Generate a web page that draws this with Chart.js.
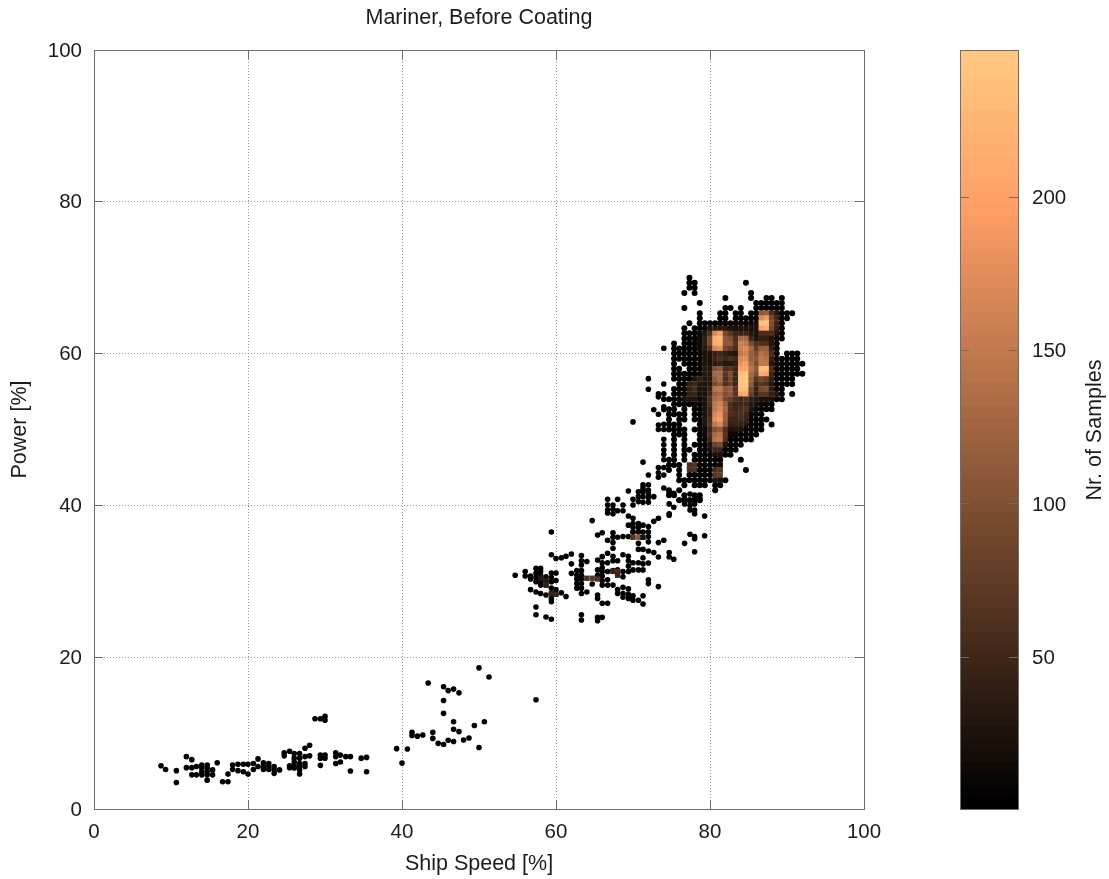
<!DOCTYPE html>
<html>
<head>
<meta charset="utf-8">
<title>Mariner, Before Coating</title>
<script src="https://cdn.jsdelivr.net/npm/chart.js@4"></script>
<style>
  html, body { margin: 0; padding: 0; background: #fff; }
  #wrap { position: relative; width: 1109px; height: 879px; overflow: hidden; }
  #mainBox { position: absolute; left: 0; top: 0; width: 1109px; height: 879px; }
  #barBox { position: absolute; left: 940px; top: 0; width: 169px; height: 879px; }
</style>
</head>
<body>
<div id="wrap">
  <div id="mainBox"><canvas id="mainChart" width="1109" height="879"></canvas></div>
  <div id="barBox"><canvas id="colorBar" width="169" height="879"></canvas></div>
</div>
<script>
const axisTicks = [0, 20, 40, 60, 80, 100];
const samplesMin = 0.5;
const samplesMax = 248;

// sparse bins: one list of power values per speed column, all close to 1 sample
const sparseSpeed = [8.7, 9.3, 10.7, 12.0, 12.7, 13.3, 14.0, 14.7, 15.4, 16.0, 16.7, 17.4, 18.0, 18.7, 19.4, 20.0, 20.7, 21.3, 22.0, 22.7, 23.4, 24.1, 24.7, 25.4, 26.0, 26.7, 27.4, 28.0, 28.7, 29.4, 30.0, 31.4, 32.0, 32.7, 33.3, 34.7, 35.4,
  39.3, 40.0, 40.7, 41.3, 42.0, 42.7, 43.4, 44.0, 44.7, 45.4, 46.0, 46.7, 47.4, 48.0, 48.7, 49.4, 50.0, 50.7, 51.3,
  54.7, 56.0, 56.7, 57.4, 58.0, 58.7, 59.4, 60.0, 60.7, 61.3, 62.0, 62.7, 63.3, 64.0, 64.7, 65.4, 66.0, 66.7, 67.4, 68.0, 68.7, 69.4, 70.0, 70.7, 71.3, 72.0, 72.7, 73.3, 74.0, 74.7, 75.3, 76.0, 76.7, 77.4, 78.0, 78.7, 79.3];
const sparsePower = [
  [5.7], [5.2], [5.05, 3.5], [6.9, 5.45], [6.5, 5.45, 4.5], [5.6, 4.5], [5.8, 5.4, 4.9, 4.5], [5.8, 5.4, 4.9, 4.5, 3.8], [5.15, 4.5], [6.1], [3.6], [4.6, 3.6],
  [5.8, 5.2], [5.9, 5.05], [5.9, 4.9], [5.9, 4.6], [6.0, 5.2], [6.6, 5.6], [6.1, 5.6, 5.2], [6.0, 5.6, 5.2], [5.6, 5.15, 4.7], [5.15], [7.4, 7.0], [7.6, 5.7, 5.45],
  [7.3, 6.7, 6.2, 5.7, 5.4], [7.3, 6.7, 6.0, 5.6, 5.15, 4.6], [8.0, 6.9, 6.0, 5.6], [8.4, 7.0], [11.9], [11.9, 7.1, 6.7, 5.75], [12.2, 11.7, 7.1, 6.7], [7.4, 6.9, 6.0], [7.1, 6.2], [6.9], [6.9, 5.0], [6.7], [6.8, 4.9],
  [7.95], [6.05], [7.9], [10.1, 9.7], [9.6], [9.75], [16.6], [10.1, 9.3], [8.65], [16.1, 14.3, 12.6, 8.5], [15.6, 9.05], [15.8, 11.5, 10.5, 8.9], [15.3, 10.2], [9.1], [9.35], [11.0], [18.6, 8.1], [11.5], [17.4],
  [30.8], [31.3, 30.7], [30.7, 30.3, 28.9], [31.7, 31.05, 30.5, 29.95, 28.6, 26.6, 25.6, 14.4], [31.7, 31.3, 30.8, 30.4, 29.95, 29.5, 28.4], [30.6, 30.1, 29.5, 28.2, 25.3],
  [36.5, 33.5, 31.1, 30.5, 29.95, 29.1, 28.4, 27.75, 27.3, 25.0], [33.0, 31.1, 30.1, 28.9, 28.3], [33.1, 28.5], [33.3, 28.0], [33.6, 32.3, 31.05], [31.4, 30.8, 30.3, 29.7, 29.1],
  [33.4, 32.7, 32.15, 31.4, 30.8, 30.3, 29.7, 29.1, 28.4, 25.6, 24.9], [32.6, 28.6], [38.0, 29.65], [36.1, 32.8, 31.5, 30.8, 28.2, 27.75, 25.25, 24.8],
  [36.4, 33.25, 32.45, 31.8, 31.3, 30.7, 30.1, 29.5, 27.1, 25.25], [40.8, 40.05, 39.4, 39.0, 35.4, 33.7, 32.45, 31.3, 30.2, 29.5, 27.1], [40.05, 39.5, 38.9, 36.4, 35.8, 35.1, 34.35, 33.3, 32.7, 31.4, 29.5],
  [40.8, 39.3, 35.8, 32.7, 31.5, 28.9, 28.4], [40.05, 39.3, 35.9, 33.5, 31.3, 30.6, 29.2, 28.4, 27.9], [41.9, 38.6, 37.4, 35.9, 33.3, 32.7, 32.0, 31.3, 29.0, 28.3, 27.75],
  [51.0, 40.8, 40.05, 38.3, 37.6, 37.1, 36.5, 32.45, 31.5, 28.1, 27.5], [41.8, 41.15, 40.5, 37.6, 37.1, 36.5, 35.0, 34.2, 32.45, 31.5, 27.5],
  [45.7, 42.7, 42.3, 42.0, 41.8, 41.15, 40.4, 37.4, 36.5, 34.2, 33.1, 32.3, 31.5, 28.1, 27.0], [56.7, 55.3, 44.0, 42.7, 42.0, 41.5, 41.0, 40.4, 37.2, 36.5, 35.9, 35.2, 34.0, 32.4, 30.2, 29.7],
  [52.6, 41.15, 37.9, 33.8], [54.7, 54.3, 52.0, 50.6, 50.0, 45.0, 44.3, 43.7, 38.3, 35.1, 33.2, 29.3],
  [60.7, 56.0, 54.7, 54.0, 53.0, 52.6, 50.7, 50.0, 48.7, 48.0, 47.3, 46.7, 46.0, 45.0, 44.0, 42.3, 35.4], [41.6, 40.2, 38.9, 38.7, 33.8, 33.2], [41.6, 39.75, 32.9], [40.7], [40.8, 40.2, 35.0], [41.5, 40.7, 40.0, 39.4, 36.2], [40.8, 40.2, 39.4, 38.9, 35.9, 35.6, 33.9], [40.9], [38.6, 36.0]
];

// the few warmer bins of the middle cluster
const warmSpeed = [58.0, 58.7, 58.7, 59.4, 60.0, 64.0, 64.7, 65.4, 67.4, 68.0, 68.0, 70.0, 70.0, 70.7, 71.3];
const warmPower = [30.4, 30.1, 29.5, 28.4, 28.3, 30.4, 30.4, 30.3, 31.3, 31.3, 30.8, 36.5, 35.8, 35.8, 35.8];
const warmSamples = [30, 35, 40, 45, 50, 60, 70, 65, 45, 55, 50, 10, 70, 110, 20];

// dense bins: samples per speed column (across) and power row (down), 0 = empty
const denseSpeed = [74.67, 75.33, 76, 76.67, 77.33, 78, 78.67, 79.33, 80, 80.67, 81.33, 82, 82.67, 83.33, 84, 84.67, 85.33, 86, 86.67, 87.33, 88, 88.67, 89.33, 90, 90.67, 91.33, 92];
const densePower = [70, 69.33, 68.67, 68, 67.33, 66.67, 66, 65.33, 64.67, 64, 63.33, 62.67, 62, 61.33, 60.67, 60, 59.33, 58.67, 58, 57.33, 56.67, 56, 55.33, 54.67, 54, 53.33, 52.67, 52, 51.33, 50.67, 50, 49.33, 48.67, 48, 47.33, 46.67, 46, 45.33, 44.67, 44, 43.33, 42.67, 42, 41.33, 40.67];
const denseSamples = [
  [0,0,0,0,1,0,0,0,0,0,0,0,0,0,0,0,0,0,0,0,0,0,0,0,0,0,0],
  [0,0,0,0,1,1,0,0,0,0,0,0,0,0,0,1,0,0,0,0,0,0,0,0,0,0,0],
  [0,0,0,0,1,1,0,0,0,0,0,0,0,0,0,0,0,0,0,0,0,0,0,0,0,0,0],
  [0,0,0,1,0,1,0,0,0,0,0,0,0,0,0,0,1,0,0,0,0,0,0,0,0,0,0],
  [0,0,0,0,0,0,0,0,0,0,0,1,0,0,0,0,1,0,0,1,1,0,1,0,0,0,0],
  [0,0,0,0,0,0,1,0,0,0,0,0,0,0,0,0,0,1,1,1,1,1,1,0,0,0,0],
  [0,0,0,1,0,0,0,0,0,0,0,1,1,0,1,0,0,1,5,5,5,3,1,0,0,0,0],
  [0,0,0,0,0,0,1,0,0,0,1,1,0,1,1,0,1,3,110,120,60,30,5,5,1,0,0],
  [0,0,0,0,0,0,1,0,0,0,1,1,0,1,1,1,1,5,170,190,90,50,5,5,0,0,0],
  [0,0,0,0,1,0,1,5,5,8,10,12,10,10,12,10,15,20,240,245,100,50,5,0,0,0,0],
  [0,0,0,1,0,1,5,10,25,30,35,30,25,20,25,20,20,25,200,210,90,40,5,0,0,0,0],
  [0,0,0,1,1,1,15,30,60,170,190,90,70,50,45,45,30,25,60,60,60,30,5,0,0,0,0],
  [0,0,0,1,1,1,15,40,90,215,230,110,100,60,130,130,50,25,40,40,30,10,2,0,0,0,0],
  [0,1,0,1,1,1,15,40,90,210,220,110,110,70,160,150,90,60,60,60,30,8,0,0,0,0,0],
  [0,1,1,1,1,1,15,35,60,170,180,90,80,60,160,170,130,80,120,120,40,8,0,0,0,0,0],
  [0,1,1,1,1,1,10,25,25,40,50,40,35,30,150,160,120,100,140,130,60,8,0,1,1,1,0],
  [0,1,1,1,1,1,8,25,20,50,60,50,60,50,170,175,120,110,150,140,50,5,5,1,1,1,0],
  [0,1,0,1,1,1,8,25,20,35,40,30,35,40,180,190,130,100,150,150,35,5,1,1,1,1,1],
  [0,1,1,0,1,1,8,30,30,100,110,60,70,50,200,200,140,110,230,235,60,5,1,1,1,1,0],
  [0,1,1,1,1,1,10,30,30,130,130,70,100,50,230,240,130,100,210,200,50,5,1,1,1,1,1],
  [0,1,1,1,8,25,40,30,30,110,130,60,90,50,240,245,120,70,90,80,40,5,1,1,1,0,0],
  [0,0,1,5,40,50,30,25,30,90,110,60,80,50,240,245,110,50,70,60,30,5,1,1,1,0,0],
  [0,1,1,1,40,55,25,25,40,140,150,110,120,70,230,235,90,40,90,100,40,5,1,0,0,0,0],
  [0,5,5,10,40,50,20,20,50,120,130,100,110,70,200,210,80,40,70,70,40,30,5,0,1,0,0],
  [1,5,8,20,30,30,15,20,60,130,140,90,80,60,50,60,40,30,25,25,20,5,1,0,0,0,0],
  [0,1,1,1,1,15,10,20,60,150,160,120,60,45,50,50,30,20,10,10,8,0,0,0,0,0,0],
  [1,1,0,1,0,1,1,20,50,150,170,130,60,50,55,60,25,10,8,5,1,0,0,0,0,0,0],
  [1,1,1,1,0,1,1,25,50,170,185,120,60,55,60,50,15,5,5,0,0,0,0,0,0,0,0],
  [1,0,1,1,0,1,1,30,60,180,190,120,50,50,55,45,10,5,5,1,0,0,0,0,0,0,0],
  [1,1,1,0,0,0,1,25,70,150,170,110,40,45,40,30,5,5,1,0,1,0,0,0,0,0,0],
  [1,1,1,1,0,1,5,15,50,100,110,60,25,30,25,10,5,5,1,0,0,0,0,0,0,0,0],
  [0,1,1,1,0,0,5,15,60,130,140,70,15,15,10,5,5,5,0,0,0,0,0,0,0,0,0],
  [0,1,0,1,0,0,1,10,50,140,150,60,8,8,5,5,1,0,0,0,0,0,0,0,0,0,0],
  [0,1,0,1,0,1,1,8,30,80,90,30,5,5,5,0,0,0,0,0,0,0,0,0,0,0,0],
  [0,1,0,1,1,0,1,5,20,50,50,8,5,5,0,0,0,0,0,0,0,0,0,0,0,0,0],
  [0,1,0,1,0,1,1,1,10,20,20,5,1,0,0,0,0,0,0,0,0,0,0,0,0,0,0],
  [1,1,0,1,0,1,1,1,5,8,8,0,0,0,1,0,0,0,0,0,0,0,0,0,0,0,0],
  [1,1,1,0,60,70,10,1,1,10,15,0,0,0,0,0,0,0,0,0,0,0,0,0,0,0,0],
  [1,0,1,0,60,65,1,1,1,60,70,0,0,0,0,1,0,0,0,0,0,0,0,0,0,0,0],
  [0,0,1,0,1,1,1,1,5,70,75,0,0,0,0,0,0,0,0,0,0,0,0,0,0,0,0],
  [0,0,1,1,1,1,1,1,5,30,20,1,0,0,0,0,0,0,0,0,0,0,0,0,0,0,0],
  [0,0,0,1,0,1,1,1,0,1,1,0,0,0,0,0,0,0,0,0,0,0,0,0,0,0,0],
  [1,0,1,0,0,0,0,0,0,1,0,0,0,0,0,0,0,0,0,0,0,0,0,0,0,0,0],
  [1,1,0,1,0,1,1,0,0,0,0,0,0,0,0,0,0,0,0,0,0,0,0,0,0,0,0],
  [0,0,1,1,1,1,1,0,0,0,0,0,0,0,0,0,0,0,0,0,0,0,0,0,0,0,0]
];

// colour bar band edges
const colorBarEdges = [0.5,4.4,8.2,12.1,16,19.8,23.7,27.6,31.4,35.3,39.2,43,46.9,50.8,54.6,58.5,62.4,66.2,70.1,74,77.8,81.7,85.6,89.4,93.3,97.2,101,104.9,108.8,112.6,116.5,120.4,124.2,128.1,132,135.8,139.7,143.6,147.4,151.3,155.2,159,162.9,166.8,170.6,174.5,178.4,182.2,186.1,190,193.8,197.7,201.6,205.4,209.3,213.2,217,220.9,224.8,228.6,232.5,236.4,240.2,244.1];
const colorBarTicks = [50, 100, 150, 200];

const FONT = 'Liberation Sans';
const TEXT = '#1c1c1c';
const FRAME = '#6e6e6e';
const TICK_SIZE = 20.5;
const LABEL_SIZE = 21.5;

// copper palette, cut into the same 64 steps as the colour bar
function copper(samples) {
    let t = (samples - samplesMin) / (samplesMax - samplesMin);
    t = Math.max(0, Math.min(1, Math.floor(t * 64) / 63));
    const r = Math.min(255, Math.round(318.75 * t));
    const g = Math.round(199.2 * t);
    const b = Math.round(126.9 * t);
    return 'rgb(' + r + ',' + g + ',' + b + ')';
}

function onlyTicks(list) {
    return function(scale) {
        scale.ticks = list.map(function(v) { return { value: v }; });
    };
}

function fixWidth(w) { return function(scale) { scale.width = w; }; }
function fixHeight(h) { return function(scale) { scale.height = h; }; }

const sparsePoints = [];
sparseSpeed.forEach(function(s, i) {
    sparsePower[i].forEach(function(p) {
        sparsePoints.push({ x: s, y: p, samples: 1 });
    });
});

const warmPoints = warmSpeed.map(function(s, i) {
    return { x: s, y: warmPower[i], samples: warmSamples[i] };
});

const densePoints = [];
densePower.forEach(function(p, row) {
    denseSpeed.forEach(function(s, col) {
        if (denseSamples[row][col] > 0) {
            densePoints.push({ x: s, y: p, samples: denseSamples[row][col] });
        }
    });
});

function binDataset(points, dotRadius) {
    return {
        data: points,
        borderWidth: 0,
        backgroundColor: function(ctx) { return copper(ctx.raw.samples); },
        pointStyle: function(ctx) { return ctx.raw.samples >= 15 ? 'rect' : 'circle'; },
        pointRadius: function(ctx) { return ctx.raw.samples >= 15 ? 3.8 : dotRadius; }
    };
}

function gridAxis(position, extra) {
    return Object.assign({
        position: position,
        min: 0,
        max: 100,
        afterBuildTicks: onlyTicks(axisTicks),
        border: { display: true, color: FRAME, width: 1, dash: [1, 2] },
        grid: {
            color: '#999999',
            lineWidth: 1,
            tickLength: -9,
            tickColor: FRAME,
            tickBorderDash: []
        }
    }, extra);
}

function tickFont(padding, labelOffset) {
    return {
        color: TEXT,
        font: { family: FONT, size: TICK_SIZE },
        padding: padding,
        labelOffset: labelOffset,
        maxRotation: 0,
        autoSkip: false
    };
}

function mirrorAxis(position, extra) {
    return Object.assign({
        position: position,
        min: 0,
        max: 100,
        afterBuildTicks: onlyTicks(axisTicks),
        border: { display: true, color: FRAME, width: 1 },
        grid: { drawOnChartArea: false, tickLength: -9, tickColor: FRAME },
        ticks: { display: false }
    }, extra);
}

new Chart(document.getElementById('mainChart'), {
    type: 'scatter',
    data: {
        datasets: [binDataset(densePoints, 3), binDataset(warmPoints, 2.8), binDataset(sparsePoints, 2.8)]
    },
    options: {
        responsive: false,
        animation: false,
        layout: { padding: { right: 245 } },
        plugins: {
            legend: { display: false },
            tooltip: { enabled: false },
            title: {
                display: true,
                text: 'Mariner, Before Coating',
                fullSize: false,
                color: TEXT,
                font: { family: FONT, size: LABEL_SIZE, weight: 'normal' },
                padding: { top: 5, bottom: 19.2 }
            }
        },
        scales: {
            x: gridAxis('bottom', {
                afterFit: fixHeight(70),
                ticks: tickFont(20, 0),
                title: {
                    display: true,
                    text: 'Ship Speed [%]',
                    color: TEXT,
                    font: { family: FONT, size: LABEL_SIZE },
                    padding: { top: 0, bottom: 2 }
                }
            }),
            y: gridAxis('left', {
                afterFit: fixWidth(94),
                ticks: tickFont(21, 1),
                title: {
                    display: true,
                    text: 'Power [%]',
                    color: TEXT,
                    font: { family: FONT, size: LABEL_SIZE },
                    padding: { top: 7, bottom: 0 }
                }
            }),
            x2: mirrorAxis('top', { afterFit: fixHeight(0) }),
            y2: mirrorAxis('right', { afterFit: fixWidth(0) })
        }
    }
});

// highest band first: Chart.js paints the first dataset last
const bandDatasets = colorBarEdges.slice().reverse().map(function(lo) {
    return {
        data: [[lo, samplesMax]],
        backgroundColor: copper(lo + 0.1),
        borderWidth: 0,
        barPercentage: 1,
        categoryPercentage: 1,
        grouped: false
    };
});

// right-hand axis titles turn the other way in Chart.js, this one reads upwards
const barTitle = {
    id: 'barTitle',
    afterDraw: function(chart) {
        const ctx = chart.ctx;
        ctx.save();
        ctx.translate(155, 430);
        ctx.rotate(-Math.PI / 2);
        ctx.fillStyle = TEXT;
        ctx.font = LABEL_SIZE + 'px "' + FONT + '"';
        ctx.textAlign = 'center';
        ctx.textBaseline = 'middle';
        ctx.fillText('Nr. of Samples', 0, 0);
        ctx.restore();
    }
};

new Chart(document.getElementById('colorBar'), {
    type: 'bar',
    data: { labels: ['samples'], datasets: bandDatasets },
    plugins: [barTitle],
    options: {
        responsive: false,
        animation: false,
        layout: { padding: { left: 20, top: 50, bottom: 70 } },
        plugins: { legend: { display: false }, tooltip: { enabled: false } },
        scales: {
            x: {
                display: true,
                afterFit: fixHeight(0),
                border: { display: true, color: FRAME, width: 1, z: 2 },
                grid: { display: false },
                ticks: { display: false }
            },
            y: {
                position: 'right',
                min: samplesMin,
                max: samplesMax,
                afterBuildTicks: onlyTicks(colorBarTicks),
                afterFit: fixWidth(91),
                border: { display: true, color: FRAME, width: 1, z: 2 },
                grid: { drawOnChartArea: false, tickLength: -9, tickColor: '#7a6a5c', z: 2 },
                ticks: tickFont(23, 1)
            },
            y2: {
                position: 'left',
                min: samplesMin,
                max: samplesMax,
                afterBuildTicks: onlyTicks(colorBarTicks),
                afterFit: fixWidth(0),
                border: { display: true, color: FRAME, width: 1, z: 2 },
                grid: { drawOnChartArea: false, tickLength: -9, tickColor: '#7a6a5c', z: 2 },
                ticks: { display: false }
            },
            x2: {
                position: 'top',
                display: true,
                afterFit: fixHeight(0),
                border: { display: true, color: FRAME, width: 1, z: 2 },
                grid: { display: false },
                ticks: { display: false }
            }
        }
    }
});
</script>
</body>
</html>
